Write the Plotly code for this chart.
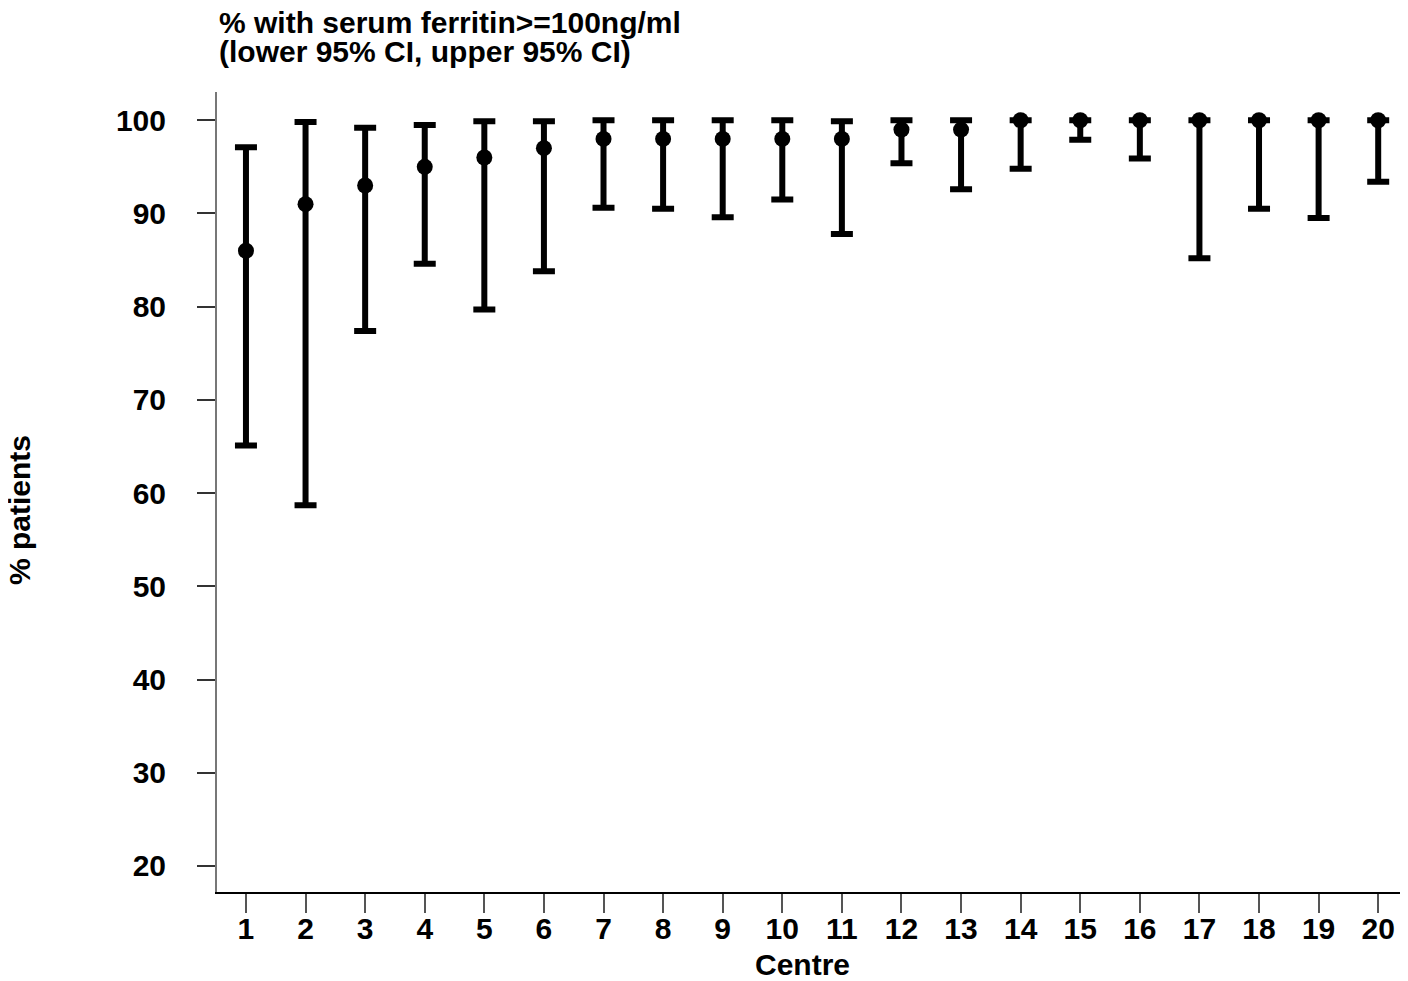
import plotly.graph_objects as go

# centre number, % with serum ferritin >= 100ng/ml, and the 95% CI bounds
centres = list(range(1, 21))
pct = [86, 91, 93, 95, 96, 97, 98, 98, 98, 98, 98, 99, 99, 100, 100, 100, 100, 100, 100, 100]
ci_lower = [65.1, 58.7, 77.4, 84.6, 79.7, 83.8, 90.6, 90.5, 89.6, 91.5, 87.8, 95.4, 92.6, 94.8, 97.9, 95.9, 85.2, 90.5, 89.5, 93.4]
ci_upper = [97.1, 99.8, 99.2, 99.5, 99.9, 99.9, 100, 100, 100, 100, 99.9, 100, 100, 100, 100, 100, 100, 100, 100, 100]

y_ticks = [20, 30, 40, 50, 60, 70, 80, 90, 100]

title_lines = ["% with serum ferritin>=100ng/ml", "(lower 95% CI, upper 95% CI)"]

err_plus = [u - p for u, p in zip(ci_upper, pct)]
err_minus = [p - l for l, p in zip(ci_lower, pct)]

FONT = "Liberation Sans"
SIZE = 30
bold = dict(family=FONT, size=SIZE, color="black", weight="bold")

fig = go.Figure()
fig.add_trace(go.Scatter(
    x=centres,
    y=pct,
    mode="markers",
    marker=dict(color="black", size=16, symbol="circle"),
    error_y=dict(
        type="data",
        symmetric=False,
        array=err_plus,
        arrayminus=err_minus,
        color="black",
        thickness=6,
        width=11,
    ),
    showlegend=False,
))

# page has an 8px body margin, so the figure is 8px smaller than the window
fig.update_layout(
    width=1400,
    height=973,
    margin=dict(l=209, r=0, t=84, b=89),
    plot_bgcolor="white",
    paper_bgcolor="white",
    font=bold,
)

fig.update_xaxes(
    range=[0.514, 20.5],
    tickmode="array",
    tickvals=centres,
    ticktext=[str(c) for c in centres],
    showgrid=False,
    zeroline=False,
    showline=True,
    linecolor="black",
    linewidth=1.5,
    ticks="outside",
    ticklen=19,
    tickwidth=1.5,
    tickcolor="#555555",
    ticklabelstandoff=-10,
)
fig.update_yaxes(
    range=[17.21, 103.03],
    tickmode="array",
    tickvals=y_ticks,
    showgrid=False,
    zeroline=False,
    showline=True,
    linecolor="#777777",
    linewidth=2,
    ticks="outside",
    ticklen=18,
    tickwidth=1.5,
    tickcolor="#333333",
    ticklabelstandoff=25,
)

# two-line title, kept tight like the reference
fig.add_annotation(text=title_lines[0], xref="paper", yref="paper",
                   x=0, y=1.0875, xanchor="left", yanchor="middle",
                   showarrow=False, font=bold)
fig.add_annotation(text=title_lines[1], xref="paper", yref="paper",
                   x=0, y=1.05, xanchor="left", yanchor="middle",
                   showarrow=False, font=bold)

fig.add_annotation(
    text="% patients",
    xref="paper", yref="paper",
    x=0, y=0.4775,
    xshift=-198,
    xanchor="center", yanchor="middle",
    textangle=-90,
    showarrow=False,
    font=bold,
)
fig.add_annotation(
    text="Centre",
    xref="paper", yref="paper",
    x=0.492, y=0,
    yshift=-72,
    xanchor="center", yanchor="middle",
    showarrow=False,
    font=bold,
)

fig.write_html("out.html")
